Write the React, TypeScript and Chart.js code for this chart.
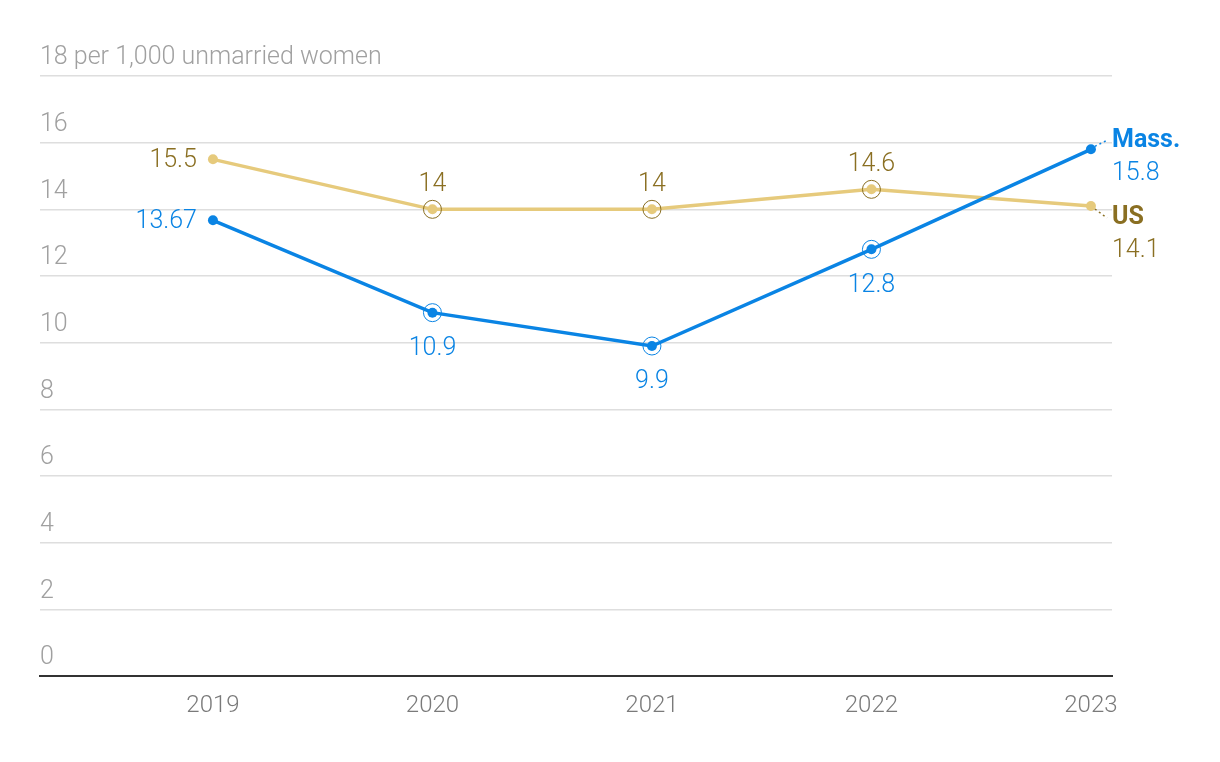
import React, { useEffect, useRef } from "react";
import { Chart, registerables } from "chart.js";

Chart.register(...registerables);

const years = [2019, 2020, 2021, 2022, 2023];
const massValues = [13.67, 10.9, 9.9, 12.8, 15.8];
const usValues = [15.5, 14, 14, 14.6, 14.1];
const massLabels = ["13.67", "10.9", "9.9", "12.8", "15.8"];
const usLabels = ["15.5", "14", "14", "14.6", "14.1"];
const yTicks = [0, 2, 4, 6, 8, 10, 12, 14, 16, 18];
const topTickLabel = "18 per 1,000 unmarried women";
const seriesNames = ["Mass.", "US"];

const BLUE = "#0a84e4";
const GOLD_LINE = "#e6ca7c";
const GOLD_TEXT = "#8a6f22";
const FONT = "Roboto";

const labelPlugin = {
  id: "labels",
  afterDatasetsDraw(chart: any) {
    const ctx = chart.ctx;
    const xs = chart.scales.x;
    const ys = chart.scales.y;
    ctx.save();
    const draw = (vals: number[], labels: string[], color: string, ringColor: string, above: boolean, name: string, endDy: number) => {
      vals.forEach((v, i) => {
        const px = xs.getPixelForValue(years[i]);
        const py = ys.getPixelForValue(v);
        ctx.font = `300 25px ${FONT}`;
        ctx.fillStyle = color;
        ctx.textBaseline = "middle";
        if (i === 0) {
          ctx.textAlign = "right";
          ctx.fillText(labels[i], px - 16, py + 1);
        } else if (i < vals.length - 1) {
          ctx.beginPath();
          ctx.arc(px, py, 9, 0, Math.PI * 2);
          ctx.lineWidth = 1;
          ctx.strokeStyle = ringColor;
          ctx.stroke();
          ctx.textAlign = "center";
          ctx.fillText(labels[i], px, above ? py - 25 : py + 36);
        } else {
          const lx = chart.chartArea.right;
          ctx.textAlign = "left";
          ctx.font = `bold 25px ${FONT}`;
          ctx.fillText(name, lx, py + endDy);
          ctx.font = `300 25px ${FONT}`;
          ctx.fillText(labels[i], lx, py + endDy + 33);
          ctx.beginPath();
          ctx.setLineDash([2, 3]);
          ctx.lineWidth = 1.5;
          ctx.strokeStyle = color;
          ctx.moveTo(px + 4, py + (endDy < 0 ? -3 : 3));
          ctx.lineTo(lx - 5, py + (endDy < 0 ? -9 : 12));
          ctx.stroke();
          ctx.setLineDash([]);
        }
      });
    };
    draw(usValues, usLabels, GOLD_TEXT, GOLD_TEXT, true, seriesNames[1], 12);
    draw(massValues, massLabels, BLUE, BLUE, false, seriesNames[0], -9);
    ctx.restore();
  },
};

export default function App() {
  const ref = useRef<HTMLCanvasElement | null>(null);
  useEffect(() => {
    document.body.style.margin = "0";
    const chart = new Chart(ref.current as HTMLCanvasElement, {
      type: "line",
      data: {
        datasets: [
          {
            label: seriesNames[0],
            data: years.map((y, i) => ({ x: y, y: massValues[i] })),
            borderColor: BLUE,
            backgroundColor: BLUE,
            borderWidth: 3.5,
            pointRadius: 5,
            pointBorderWidth: 0,
            pointBackgroundColor: BLUE,
            tension: 0,
          },
          {
            label: seriesNames[1],
            data: years.map((y, i) => ({ x: y, y: usValues[i] })),
            borderColor: GOLD_LINE,
            backgroundColor: GOLD_LINE,
            borderWidth: 3.5,
            pointRadius: 5,
            pointBorderWidth: 0,
            pointBackgroundColor: GOLD_LINE,
            tension: 0,
          },
        ],
      },
      options: {
        animation: false,
        responsive: false,
        maintainAspectRatio: false,
        layout: { padding: { left: 40, right: 108, top: 76, bottom: 0 } },
        plugins: { legend: { display: false }, tooltip: { enabled: false } },
        scales: {
          x: {
            type: "linear",
            min: 2018.212,
            max: 2023.096,
            afterBuildTicks: (s: any) => {
              s.ticks = years.map((v) => ({ value: v }));
            },
            afterFit: (s: any) => {
              s.height = 86;
            },
            grid: { display: false, drawTicks: false },
            border: { display: true, color: "#333", width: 2 },
            ticks: {
              padding: 16,
              color: "#7a7a7a",
              font: { family: FONT, size: 24, weight: "300" },
              maxRotation: 0,
              autoSkip: false,
              callback: (v: any) => String(v),
            },
          },
          y: {
            min: 0,
            max: 18,
            afterBuildTicks: (s: any) => {
              s.ticks = yTicks.map((v) => ({ value: v }));
            },
            afterFit: (s: any) => {
              s.width = 0;
            },
            grid: { color: "#dedede", lineWidth: 1.5, drawTicks: false },
            border: { display: false },
            ticks: {
              mirror: true,
              padding: 0,
              labelOffset: -18,
              color: "#a0a0a0",
              font: { family: FONT, size: 25, weight: "300" },
              callback: (v: any) => (v === 18 ? topTickLabel : String(v)),
            },
          },
        },
      },
      plugins: [labelPlugin],
    });
    return () => chart.destroy();
  }, []);
  return (
    <div style={{ position: "fixed", left: 0, top: 0, width: 1220, height: 762, background: "#fff" }}>
      <canvas ref={ref} width={1220} height={762} style={{ width: 1220, height: 762 }} />
    </div>
  );
}
